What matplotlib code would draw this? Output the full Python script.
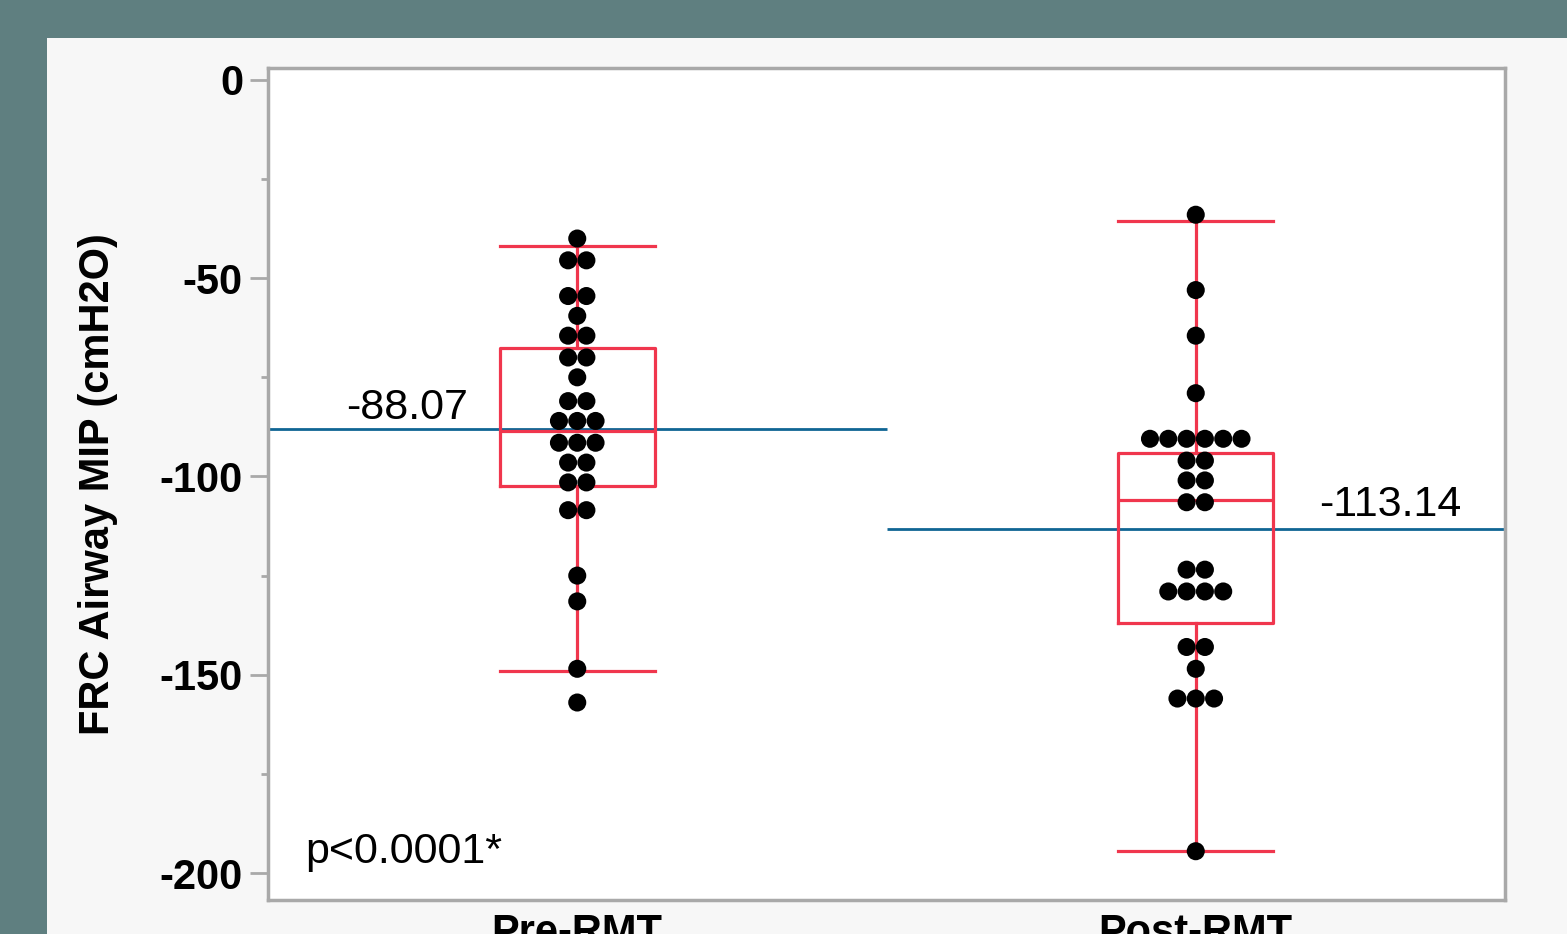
import numpy as np
import matplotlib.pyplot as plt
from matplotlib.patches import Rectangle

plt.rcParams['font.family'] = ['Liberation Sans', 'DejaVu Sans']

groups = ["Pre-RMT", "Post-RMT"]

# values per dot row, with number of dots in that row
pre_vals = [-40, -45.5, -54.5, -59.5, -64.5, -70, -75, -81, -86, -91.5, -96.5, -101.5, -108.5, -125, -131.5, -148.5, -157]
pre_counts = [1, 2, 2, 1, 2, 2, 1, 2, 3, 3, 2, 2, 2, 1, 1, 1, 1]
post_vals = [-34, -53, -64.5, -79, -90.5, -96, -101, -106.5, -123.5, -129, -143, -148.5, -156, -194.5]
post_counts = [1, 1, 1, 1, 6, 2, 2, 2, 2, 4, 2, 1, 3, 1]

means = [-88.07, -113.14]
# box stats: whisker low, q1, median, q3, whisker high
pre_box = [-149, -102.5, -88.5, -67.5, -42]
post_box = [-194.5, -137, -106, -94, -35.5]

teal = "#5f7f80"
panel = "#f7f7f7"
red = "#f0364d"
blue = "#0f6594"
grey = "#a9a9a9"

fig = plt.figure(figsize=(15.67, 9.34), dpi=100, facecolor=teal)
fig.patches.append(Rectangle((47 / 1567, 0), 1, 1 - 38 / 934, transform=fig.transFigure,
                             facecolor=panel, edgecolor="none", zorder=-10))

ax = fig.add_axes([268 / 1567, 1 - 900 / 934, 1237 / 1567, 832 / 934])
ax.set_facecolor("white")
ax.set_xlim(0, 2)
ax.set_ylim(-206.8, 3.0)

positions = [0.5, 1.5]
stats = []
for name, b in zip(groups, [pre_box, post_box]):
    stats.append(dict(label=name, whislo=b[0], q1=b[1], med=b[2], q3=b[3], whishi=b[4], fliers=[]))
red_kw = dict(color=red, linewidth=2.3)
ax.bxp(stats, positions=positions, widths=0.25, showfliers=False,
       boxprops=red_kw, medianprops=red_kw, whiskerprops=red_kw,
       capprops=red_kw, capwidths=0.25, zorder=2)

# dots stacked side by side in rows
step = 0.0296
for pos, vals, counts in zip(positions, [pre_vals, post_vals], [pre_counts, post_counts]):
    xs, ys = [], []
    for v, n in zip(vals, counts):
        offs = (np.arange(n) - (n - 1) / 2) * step
        xs.extend(pos + offs)
        ys.extend([v] * n)
    ax.scatter(xs, ys, s=13 ** 2, color="black", edgecolors="none", zorder=3)

# group means as horizontal lines over each half
ax.hlines(means[0], 0, 1, color=blue, linewidth=2, zorder=1)
ax.hlines(means[1], 1, 2, color=blue, linewidth=2, zorder=1)
ax.text(0.225, means[0] + 2.5, f"{means[0]:.2f}", fontsize=31, ha="center", va="baseline")
ax.text(1.814, means[1] + 3.2, f"{means[1]:.2f}", fontsize=31, ha="center", va="baseline")
ax.text(0.06, -197.5, "p<0.0001*", fontsize=31, ha="left", va="baseline")

ax.set_xticks(positions)
ax.set_xticklabels(groups, fontsize=30, fontweight="bold")
ax.set_yticks([0, -50, -100, -150, -200])
ax.set_yticks([-25, -75, -125, -175], minor=True)
ax.set_yticklabels(["0", "-50", "-100", "-150", "-200"], fontsize=30, fontweight="bold")
ax.tick_params(axis="y", which="major", length=13, width=2, color=grey, pad=5)
ax.tick_params(axis="y", which="minor", length=5, width=2, color=grey)
ax.tick_params(axis="x", length=0, pad=9)
for s in ax.spines.values():
    s.set_color(grey)
    s.set_linewidth(2.5)
ax.set_ylabel("FRC Airway MIP (cmH2O)", fontsize=30, fontweight="bold", labelpad=30)

fig.savefig("out.png", dpi=100, facecolor=teal)
